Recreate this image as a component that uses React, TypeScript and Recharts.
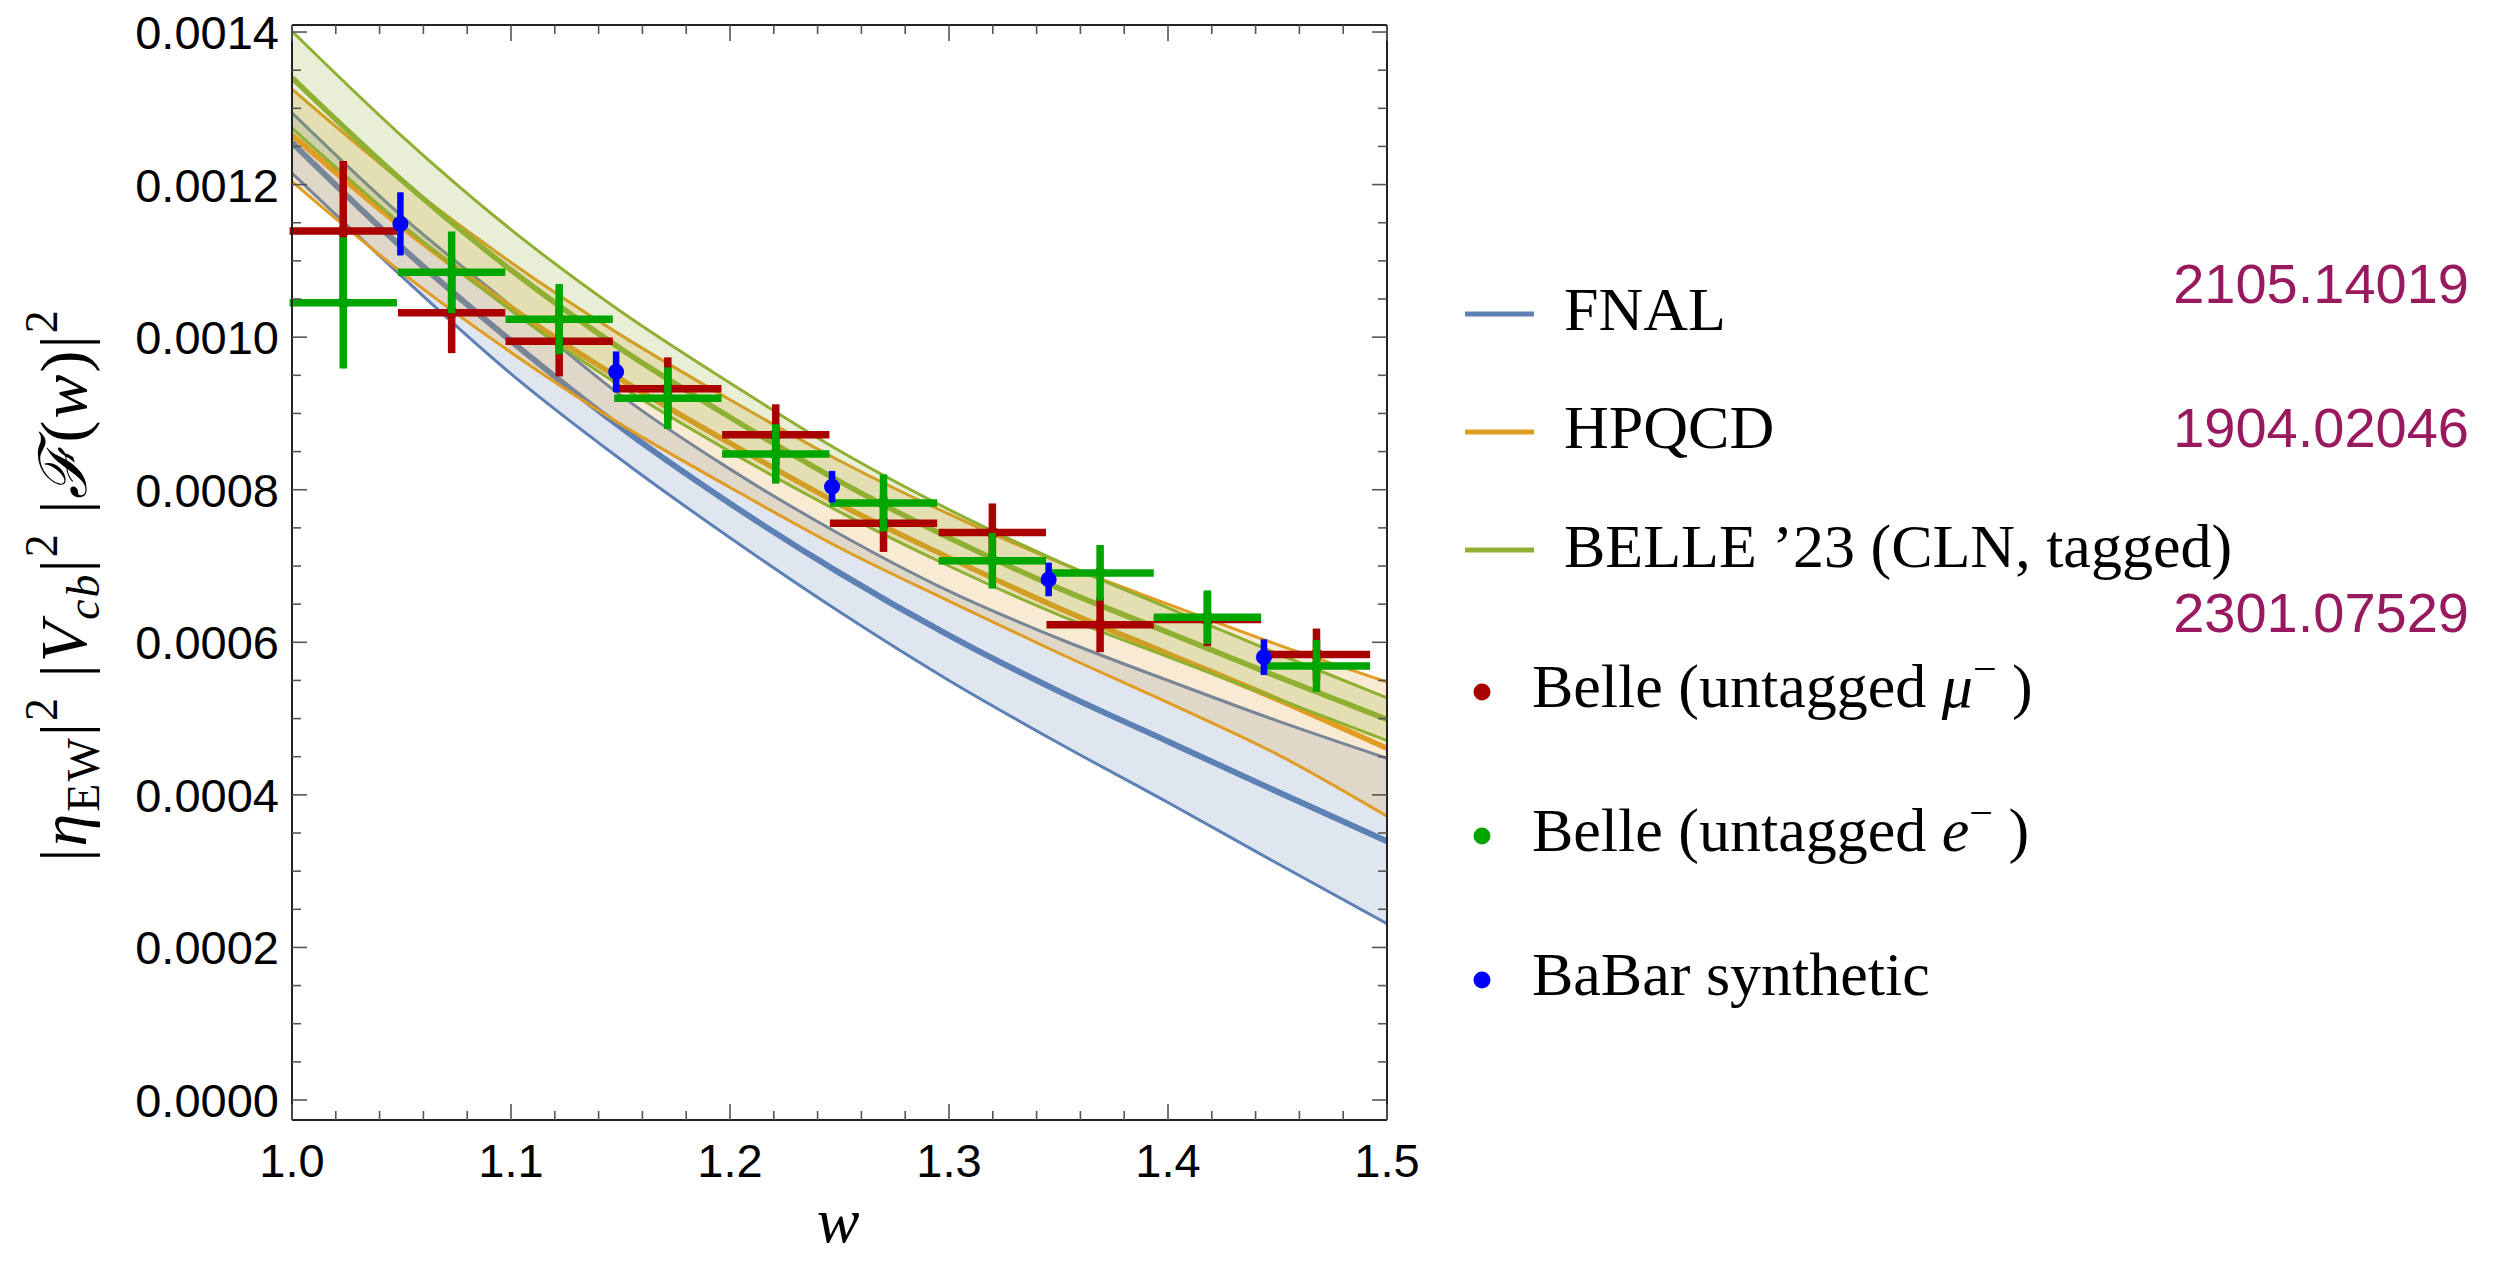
import React from "react";
import { ComposedChart, Area, Line, Scatter, ErrorBar, XAxis, YAxis } from "recharts";

const wGrid = [1.0, 1.05, 1.1, 1.15, 1.2, 1.25, 1.3, 1.35, 1.4, 1.45, 1.5];

// FNAL 2105.14019
const fnalUp = [0.001294, 0.001159, 0.001041, 0.000924, 0.000827, 0.000742, 0.000667, 0.000605, 0.00055, 0.000497, 0.000448];
const fnalMid = [0.001255, 0.001118, 0.000995, 0.000882, 0.000782, 0.000691, 0.000609, 0.000536, 0.00047, 0.000404, 0.000339];
const fnalLo = [0.001215, 0.00108, 0.000952, 0.00084, 0.000737, 0.00064, 0.00055, 0.000468, 0.00039, 0.00031, 0.000231];

// HPQCD 1904.02046
const hpqcdUp = [0.001325, 0.001205, 0.001098, 0.001003, 0.000918, 0.000838, 0.000768, 0.000705, 0.00065, 0.000597, 0.000548];
const hpqcdMid = [0.001265, 0.001145, 0.001039, 0.000945, 0.000861, 0.000781, 0.000711, 0.000645, 0.000585, 0.000525, 0.000461];
const hpqcdLo = [0.001204, 0.001085, 0.00098, 0.000886, 0.000803, 0.000724, 0.000654, 0.000586, 0.000521, 0.000453, 0.000372];

// BELLE '23 CLN tagged 2301.07529
const belleUp = [0.001401, 0.001264, 0.001141, 0.001034, 0.00094, 0.000851, 0.000774, 0.000706, 0.000645, 0.000585, 0.000527];
const belleMid = [0.00134, 0.001206, 0.001088, 0.000985, 0.000895, 0.000811, 0.000737, 0.000671, 0.000613, 0.000555, 0.000499];
const belleLo = [0.001274, 0.001148, 0.001035, 0.000936, 0.00085, 0.000771, 0.0007, 0.000636, 0.000581, 0.000526, 0.000471];

// untagged Belle bins (same centres for mu and e)
const binW = [1.0234, 1.0729, 1.122, 1.1716, 1.2209, 1.2701, 1.3198, 1.369, 1.418, 1.4678];
const binHalf = [0.0245, 0.0245, 0.0245, 0.0245, 0.0245, 0.0245, 0.0245, 0.0245, 0.0245, 0.0245];
const muVal = [0.001139, 0.001032, 0.0009945, 0.0009325, 0.000872, 0.000756, 0.000744, 0.000623, 0.00063, 0.000584];
const muErr = [0.000092, 0.000053, 0.000046, 0.000041, 0.00004, 0.0000375, 0.000038, 0.000036, 0.000035, 0.000034];
const eVal = [0.001045, 0.001085, 0.0010236, 0.00092, 0.000847, 0.0007826, 0.000707, 0.000691, 0.000633, 0.000569];
const eErr = [0.000086, 0.0000535, 0.000046, 0.0000404, 0.000039, 0.0000375, 0.0000365, 0.0000365, 0.000035, 0.000034];

// BaBar synthetic
const babarW = [1.0495, 1.148, 1.2466, 1.3455, 1.4438];
const babarVal = [0.0011485, 0.0009546, 0.000804, 0.0006824, 0.0005805];
const babarErr = [0.0000414, 0.0000267, 0.0000207, 0.000022, 0.0000234];

const xMajor = [1.0, 1.1, 1.2, 1.3, 1.4, 1.5];
const xMinor = [1.02, 1.04, 1.06, 1.08, 1.12, 1.14, 1.16, 1.18, 1.22, 1.24, 1.26, 1.28, 1.32, 1.34, 1.36, 1.38, 1.42, 1.44, 1.46, 1.48];
const yMajor = [0, 0.0002, 0.0004, 0.0006, 0.0008, 0.001, 0.0012, 0.0014];
const yMinor = [0.00005, 0.0001, 0.00015, 0.00025, 0.0003, 0.00035, 0.00045, 0.0005, 0.00055, 0.00065, 0.0007, 0.00075, 0.00085, 0.0009, 0.00095, 0.00105, 0.0011, 0.00115, 0.00125, 0.0013, 0.00135];
const yLabels = ["0.0000", "0.0002", "0.0004", "0.0006", "0.0008", "0.0010", "0.0012", "0.0014"];

const BLUE = "#5e81b5";
const ORANGE = "#e19c24";
const GREEN = "#8fb032";
const SANS = "'Liberation Sans', Arial, sans-serif";
const SERIF = "'Liberation Serif', 'DejaVu Serif', serif";

const bandData = wGrid.map((w, i) => ({
  w,
  fUp: fnalUp[i], fMid: fnalMid[i], fLo: fnalLo[i],
  hUp: hpqcdUp[i], hMid: hpqcdMid[i], hLo: hpqcdLo[i],
  bUp: belleUp[i], bMid: belleMid[i], bLo: belleLo[i],
}));
const muData = binW.map((w, i) => ({ w, v: muVal[i], ex: binHalf[i], ey: muErr[i] }));
const eData = binW.map((w, i) => ({ w, v: eVal[i], ex: binHalf[i], ey: eErr[i] }));
const babarData = babarW.map((w, i) => ({ w, v: babarVal[i], ey: babarErr[i] }));

const isMajor = (list: number[], v: number) => list.some((m) => Math.abs(m - v) < 1e-9);
const TICK = "#555";

function bottomTick({ x, y, payload }: any) {
  const major = isMajor(xMajor, payload.value);
  return (
    <g>
      <line x1={x} x2={x} y1={y} y2={y - (major ? 16 : 9)} stroke={TICK} strokeWidth={1.6} />
      {major && (
        <text x={x} y={y + 57} textAnchor="middle" fontFamily={SANS} fontSize={47} fill="#000">
          {payload.value.toFixed(1)}
        </text>
      )}
    </g>
  );
}

function topTick({ x, y, payload }: any) {
  const major = isMajor(xMajor, payload.value);
  return <line x1={x} x2={x} y1={y} y2={y + (major ? 16 : 9)} stroke={TICK} strokeWidth={1.6} />;
}

function leftTick({ x, y, payload }: any) {
  const idx = yMajor.findIndex((m) => Math.abs(m - payload.value) < 1e-12);
  return (
    <g>
      <line x1={x} x2={x + (idx >= 0 ? 15 : 9)} y1={y} y2={y} stroke={TICK} strokeWidth={1.6} />
      {idx >= 0 && (
        <text x={x - 13} y={y + 17} textAnchor="end" fontFamily={SANS} fontSize={47} fill="#000">
          {yLabels[idx]}
        </text>
      )}
    </g>
  );
}

function rightTick({ x, y, payload }: any) {
  const major = isMajor(yMajor, payload.value);
  return <line x1={x} x2={x - (major ? 15 : 9)} y1={y} y2={y} stroke={TICK} strokeWidth={1.6} />;
}

const dot = (color: string, r: number) => (p: any) => <circle cx={p.cx} cy={p.cy} r={r} fill={color} />;

export default function App() {
  const xTicks = [...xMajor, ...xMinor].sort((a, b) => a - b);
  const yTicks = [...yMajor, ...yMinor].sort((a, b) => a - b);
  const yDomain = [-0.0000262, 0.0014092];
  const axisLine = { stroke: "#222", strokeWidth: 2 };

  return (
    <div style={{ position: "absolute", left: 0, top: 0, width: 2503, height: 1276, background: "#fff" }}>
      <div style={{ position: "absolute", left: 0, top: 0 }}>
        <ComposedChart width={2503} height={1276} data={bandData} margin={{ top: 20, left: 92, right: 1106, bottom: 76 }}>
          <XAxis dataKey="w" type="number" domain={[1, 1.5]} ticks={xTicks} interval={0} allowDataOverflow
            height={80} tickSize={0} tickMargin={0} tickLine={false} axisLine={axisLine} tick={bottomTick} />
          <XAxis xAxisId="top" orientation="top" dataKey="w" type="number" domain={[1, 1.5]} ticks={xTicks} interval={0}
            allowDataOverflow height={5} tickSize={0} tickMargin={0} tickLine={false} axisLine={axisLine} tick={topTick} />
          <YAxis type="number" domain={yDomain} ticks={yTicks} interval={0} allowDataOverflow width={200}
            tickSize={0} tickMargin={0} tickLine={false} axisLine={axisLine} tick={leftTick} />
          <YAxis yAxisId="r" orientation="right" type="number" domain={yDomain} ticks={yTicks} interval={0}
            allowDataOverflow width={10} tickSize={0} tickMargin={0} tickLine={false} axisLine={axisLine} tick={rightTick} />

          {/* FNAL band */}
          <Area zIndex={100} type="monotone" dataKey={(d: any) => [d.fLo, d.fUp]} stroke="none" fill={BLUE} fillOpacity={0.2} isAnimationActive={false} />
          <Line zIndex={101} type="monotone" dataKey="fUp" stroke={BLUE} strokeWidth={3} dot={false} isAnimationActive={false} />
          <Line zIndex={101} type="monotone" dataKey="fLo" stroke={BLUE} strokeWidth={3} dot={false} isAnimationActive={false} />
          <Line zIndex={101} type="monotone" dataKey="fMid" stroke={BLUE} strokeWidth={6} dot={false} isAnimationActive={false} />

          {/* HPQCD band */}
          <Area zIndex={102} type="monotone" dataKey={(d: any) => [d.hLo, d.hUp]} stroke="none" fill={ORANGE} fillOpacity={0.2} isAnimationActive={false} />
          <Line zIndex={103} type="monotone" dataKey="hUp" stroke={ORANGE} strokeWidth={3} dot={false} isAnimationActive={false} />
          <Line zIndex={103} type="monotone" dataKey="hLo" stroke={ORANGE} strokeWidth={3} dot={false} isAnimationActive={false} />
          <Line zIndex={103} type="monotone" dataKey="hMid" stroke={ORANGE} strokeWidth={5.5} dot={false} isAnimationActive={false} />

          {/* BELLE '23 band */}
          <Area zIndex={104} type="monotone" dataKey={(d: any) => [d.bLo, d.bUp]} stroke="none" fill={GREEN} fillOpacity={0.2} isAnimationActive={false} />
          <Line zIndex={105} type="monotone" dataKey="bUp" stroke={GREEN} strokeWidth={3} dot={false} isAnimationActive={false} />
          <Line zIndex={105} type="monotone" dataKey="bLo" stroke={GREEN} strokeWidth={3} dot={false} isAnimationActive={false} />
          <Line zIndex={105} type="monotone" dataKey="bMid" stroke={GREEN} strokeWidth={5.5} dot={false} isAnimationActive={false} />

          <Scatter zIndex={200} data={muData} dataKey="v" shape={dot("#aa0000", 6)} isAnimationActive={false}>
            <ErrorBar zIndex={200} dataKey="ex" direction="x" width={0} stroke="#aa0000" strokeWidth={7.5} isAnimationActive={false} />
            <ErrorBar zIndex={200} dataKey="ey" direction="y" width={0} stroke="#aa0000" strokeWidth={7.5} isAnimationActive={false} />
          </Scatter>
          <Scatter zIndex={201} data={eData} dataKey="v" shape={dot("#00a600", 6)} isAnimationActive={false}>
            <ErrorBar zIndex={201} dataKey="ex" direction="x" width={0} stroke="#00a600" strokeWidth={7.5} isAnimationActive={false} />
            <ErrorBar zIndex={201} dataKey="ey" direction="y" width={0} stroke="#00a600" strokeWidth={7.5} isAnimationActive={false} />
          </Scatter>
          <Scatter zIndex={202} data={babarData} dataKey="v" shape={dot("#0000ff", 8)} isAnimationActive={false}>
            <ErrorBar zIndex={202} dataKey="ey" direction="y" width={0} stroke="#0000ff" strokeWidth={6.5} isAnimationActive={false} />
          </Scatter>
        </ComposedChart>
      </div>

      <svg width={2503} height={1276} style={{ position: "absolute", left: 0, top: 0, pointerEvents: "none" }}>
        {/* axis labels */}
        <text transform="translate(86,585) rotate(-90)" textAnchor="middle" fontFamily={SERIF} fontSize={66}
          letterSpacing={2} fill="#000">
          <tspan>|</tspan>
          <tspan fontStyle="italic">η</tspan>
          <tspan fontSize={46} dy={13}>EW</tspan>
          <tspan dy={-13}>|</tspan>
          <tspan fontSize={46} dy={-29}>2</tspan>
          <tspan dy={29}> |</tspan>
          <tspan fontStyle="italic">V</tspan>
          <tspan fontSize={46} fontStyle="italic" dy={13}>cb</tspan>
          <tspan dy={-13}>|</tspan>
          <tspan fontSize={46} dy={-29}>2</tspan>
          <tspan dy={29}> |</tspan>
          <tspan fontStyle="italic">ℱ</tspan>
          <tspan>(</tspan>
          <tspan fontStyle="italic">w</tspan>
          <tspan>)|</tspan>
          <tspan fontSize={46} dy={-29}>2</tspan>
        </text>
        <text x={838} y={1242} textAnchor="middle" fontFamily={SERIF} fontStyle="italic" fontSize={64} fill="#000">w</text>

        {/* legend */}
        <line x1={1465} x2={1534} y1={314} y2={314} stroke={BLUE} strokeWidth={5} />
        <text x={1564} y={330} fontFamily={SERIF} fontSize={62} fill="#000">FNAL</text>
        <line x1={1465} x2={1534} y1={432} y2={432} stroke={ORANGE} strokeWidth={5} />
        <text x={1564} y={448} fontFamily={SERIF} fontSize={62} fill="#000">HPQCD</text>
        <line x1={1465} x2={1534} y1={550} y2={550} stroke={GREEN} strokeWidth={5} />
        <text x={1564} y={567} fontFamily={SERIF} fontSize={62} fill="#000">BELLE ’23 (CLN, tagged)</text>

        <text x={2469} y={303} textAnchor="end" fontFamily={SANS} fontSize={56} fill="#99195e">2105.14019</text>
        <text x={2469} y={447} textAnchor="end" fontFamily={SANS} fontSize={56} fill="#99195e">1904.02046</text>
        <text x={2469} y={632} textAnchor="end" fontFamily={SANS} fontSize={56} fill="#99195e">2301.07529</text>

        <circle cx={1482} cy={692} r={8.5} fill="#aa0000" />
        <text x={1532} y={707} fontFamily={SERIF} fontSize={62} fill="#000">
          Belle (untagged <tspan fontStyle="italic">μ</tspan><tspan fontSize={42} dy={-24}>−</tspan><tspan dy={24}> )</tspan>
        </text>
        <circle cx={1482} cy={836} r={8.5} fill="#00a600" />
        <text x={1532} y={851} fontFamily={SERIF} fontSize={62} fill="#000">
          Belle (untagged <tspan fontStyle="italic">e</tspan><tspan fontSize={42} dy={-24}>−</tspan><tspan dy={24}> )</tspan>
        </text>
        <circle cx={1482} cy={980} r={8.5} fill="#0000ff" />
        <text x={1532} y={995} fontFamily={SERIF} fontSize={62} fill="#000">BaBar synthetic</text>
      </svg>
    </div>
  );
}
